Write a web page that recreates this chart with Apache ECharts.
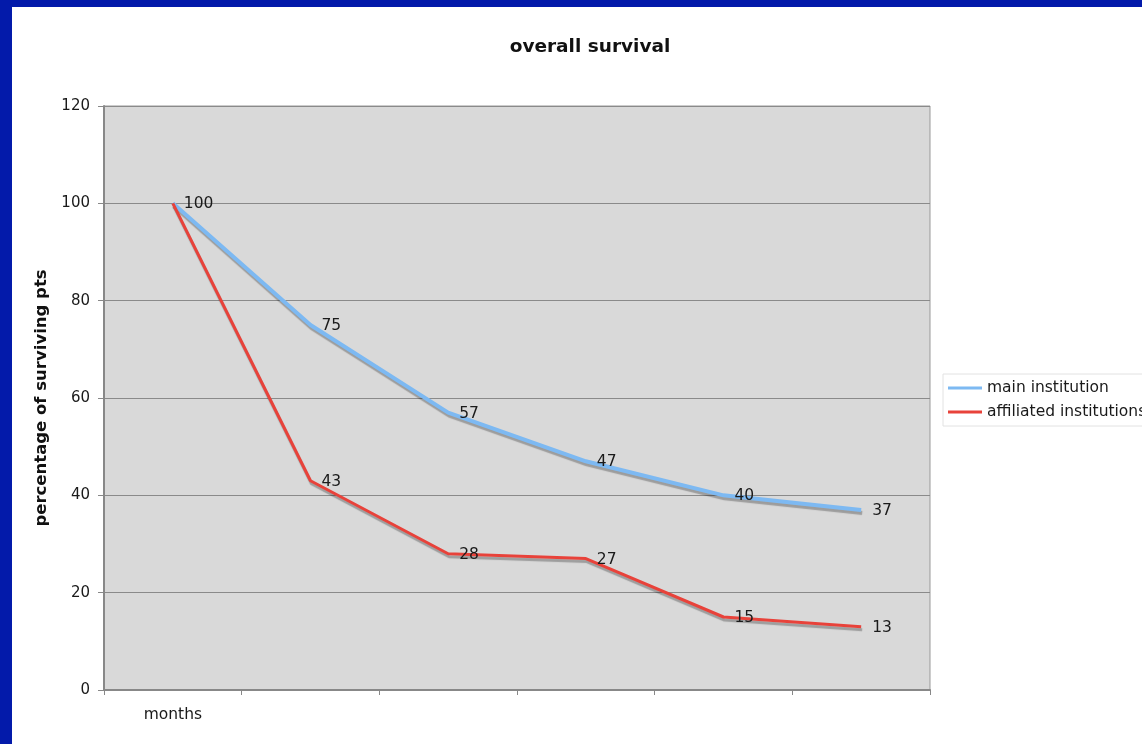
<!DOCTYPE html>
<html>
<head>
<meta charset="utf-8">
<script src="https://cdn.jsdelivr.net/npm/echarts@6/dist/echarts.min.js"></script>
<style>
  html, body { margin: 0; padding: 0; background: #fff; }
  #chart { width: 1142px; height: 744px; }
</style>
</head>
<body>
<div id="chart"></div>
<script>
// Overall survival over follow-up, two patient groups
const categories = ['months', '', '', '', '', ''];
const mainInstitution = [100, 75, 57, 47, 40, 37];
const affiliatedInstitutions = [100, 43, 28, 27, 15, 13];
const yTicks = { min: 0, max: 120, interval: 20 };

const FONT = 'DejaVu Sans, Verdana, sans-serif';
const chart = echarts.init(document.getElementById('chart'));

function lineSeries(name, values, color, width, hideFirstLabel) {
  // both groups start at the same point, so only one label is written there
  const data = values.map((v, i) =>
    hideFirstLabel && i === 0 ? { value: v, label: { show: false } } : v
  );
  return {
    name: name,
    type: 'line',
    data: data,
    // invisible symbols so the value labels are still attached to each point
    symbol: 'circle',
    symbolSize: 0,
    showSymbol: true,
    lineStyle: {
      color: color,
      width: width,
      shadowColor: 'rgba(0,0,0,0.28)',
      shadowOffsetX: 1,
      shadowOffsetY: 3,
      shadowBlur: 1
    },
    itemStyle: { color: color },
    label: {
      show: true,
      position: 'right',
      distance: 11,
      offset: [0, 1],
      color: '#1a1a1a',
      fontFamily: FONT,
      fontSize: 15.5
    },
    emphasis: { disabled: true },
    animation: false
  };
}

chart.setOption({
  backgroundColor: '#fff',
  animation: false,
  graphic: [
    { type: 'rect', shape: { x: 0, y: 0, width: 12, height: 744 }, style: { fill: '#031AAA' }, silent: true },
    { type: 'rect', shape: { x: 0, y: 0, width: 1142, height: 7 }, style: { fill: '#031AAA' }, silent: true }
  ],
  title: {
    text: 'overall survival',
    left: 585,
    textAlign: 'center',
    top: 33,
    textStyle: { fontFamily: FONT, fontSize: 18.5, fontWeight: 'bold', color: '#111' }
  },
  legend: {
    left: 943,
    top: 374,
    orient: 'vertical',
    icon: 'rect',
    itemWidth: 34,
    itemHeight: 3,
    itemGap: 8,
    padding: [6, 10, 6, 5],
    borderColor: '#e2e2e2',
    borderWidth: 1,
    textStyle: { fontFamily: FONT, fontSize: 15.5, color: '#1a1a1a' },
    data: ['main institution', 'affiliated institutions']
  },
  grid: {
    left: 104,
    right: 212,
    top: 106,
    bottom: 54,
    show: true,
    backgroundColor: '#D9D9D9',
    borderColor: '#999',
    borderWidth: 1
  },
  xAxis: {
    type: 'category',
    data: categories,
    boundaryGap: true,
    axisLine: { lineStyle: { color: '#888', width: 2 } },
    axisTick: { show: true, length: 5, lineStyle: { color: '#888' } },
    axisLabel: { margin: 17, color: '#1a1a1a', fontFamily: FONT, fontSize: 15.5, interval: 0 },
    splitLine: { show: false }
  },
  yAxis: {
    type: 'value',
    min: yTicks.min,
    max: yTicks.max,
    interval: yTicks.interval,
    name: 'percentage of surviving pts',
    nameLocation: 'middle',
    nameGap: 49,
    nameTextStyle: { fontFamily: FONT, fontSize: 16.5, fontWeight: 'bold', color: '#111' },
    axisLine: { show: true, lineStyle: { color: '#888', width: 2 } },
    axisTick: { show: true, length: 6, lineStyle: { color: '#888' } },
    axisLabel: { margin: 14, color: '#1a1a1a', fontFamily: FONT, fontSize: 15 },
    splitLine: { show: true, lineStyle: { color: '#8a8a8a', width: 1 } }
  },
  series: [
    lineSeries('main institution', mainInstitution, '#7DB9F2', 4, false),
    lineSeries('affiliated institutions', affiliatedInstitutions, '#E8423A', 3, true)
  ]
});
</script>
</body>
</html>
